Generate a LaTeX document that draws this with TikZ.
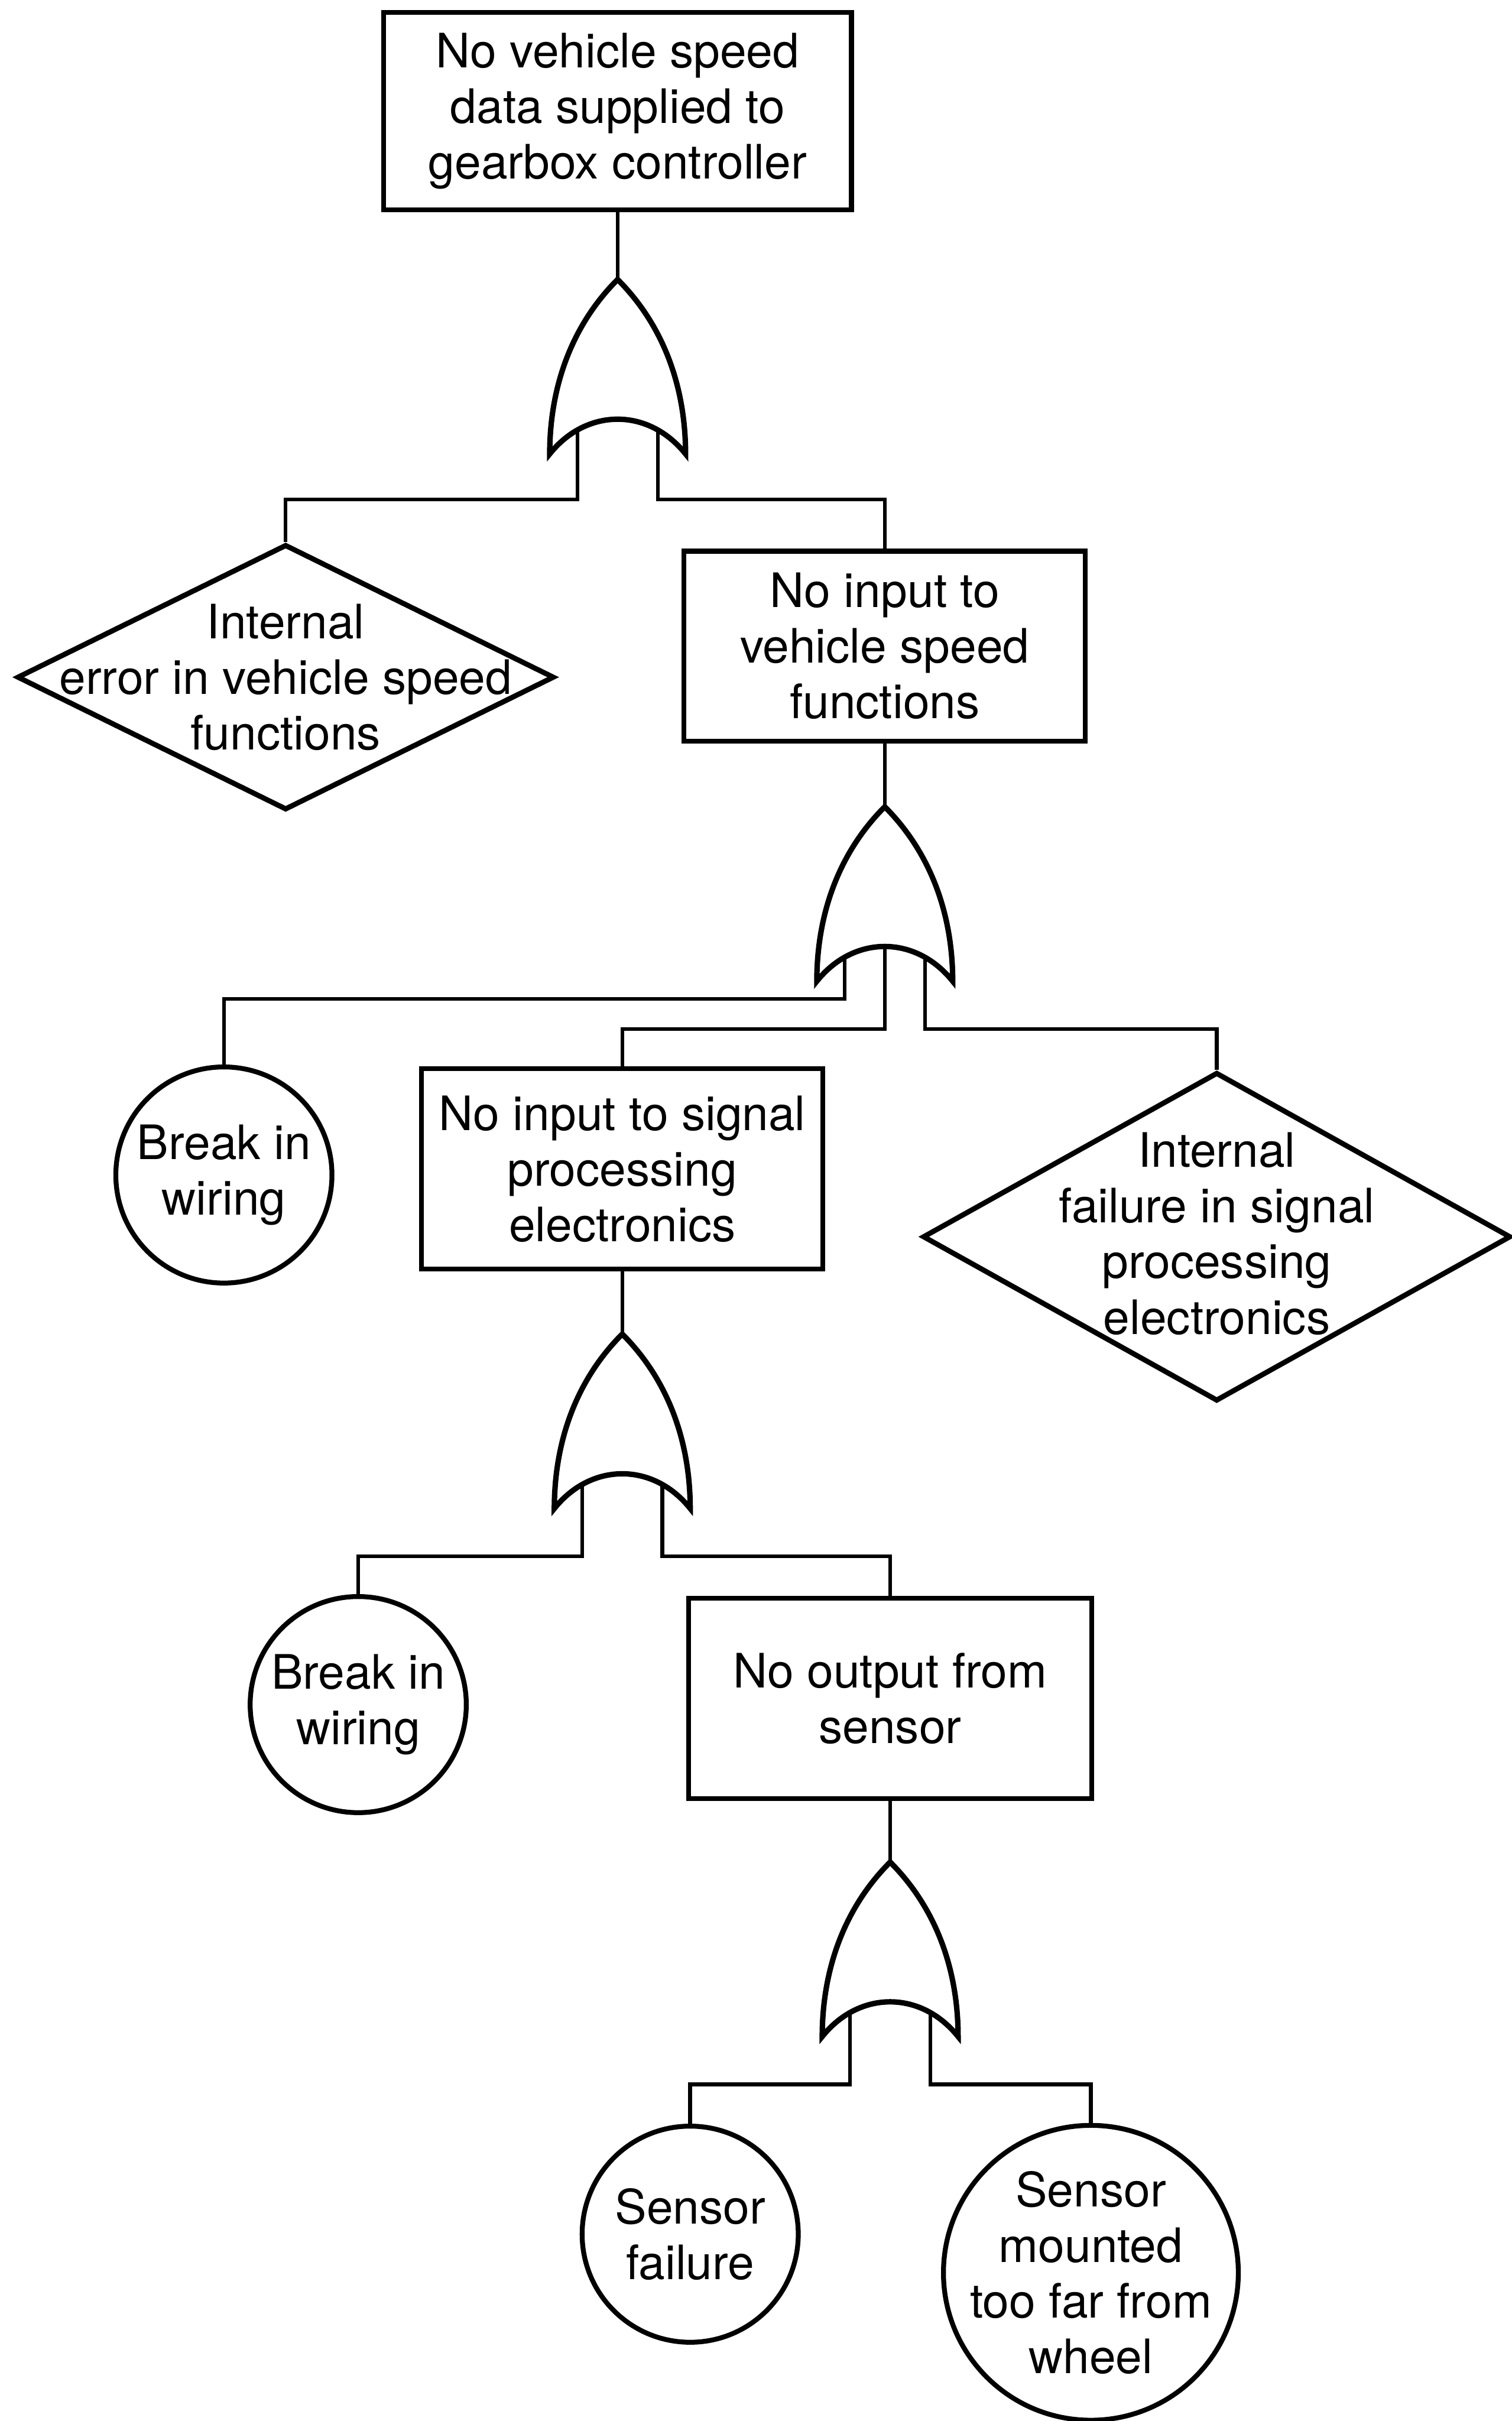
\documentclass[tikz,border=0pt]{standalone}
\usepackage{fontspec}
\setmainfont{TeX Gyre Heros}
\usepackage{tikz}
\usetikzlibrary{shapes.geometric,calc}

\begin{document}
\begin{tikzpicture}[x=0.02cm,y=-0.02cm,
  txt/.style={font=\fontsize{17.5pt}{20.5pt}\selectfont,align=center,inner sep=0pt},
  evbox/.style={txt,draw,line width=1.8pt,minimum width=5.2cm,minimum height=2.6cm},
  basic/.style={txt,draw,circle,line width=1.8pt,minimum size=2.8cm},
  undev/.style={draw,diamond,line width=1.9pt,inner sep=0pt},
  wire/.style={line width=1.4pt},
  orgate/.pic={
    \draw[line width=2pt] (0,0) .. controls (-30,30) and (-44,70) .. (-44,113)
      .. controls (-20,83) and (20,83) .. (44,113)
      .. controls (44,70) and (30,30) .. cycle;
    \coordinate (-a) at (0,0);
    \coordinate (-l) at (-26,97.5);
    \coordinate (-m) at (0,90.5);
    \coordinate (-r) at (26,97.5);
  }]
  \useasboundingbox (0,0) rectangle (979,1568);

  % events
  \node[evbox,minimum width=6.06cm,minimum height=2.56cm] (top) at (400,72) {No vehicle speed\\data supplied to\\gearbox controller};
  \node[evbox,minimum height=2.46cm] (inp) at (573,418.5) {No input to\\vehicle speed\\functions};
  \node[evbox] (sig) at (403,757) {No input to signal\\processing\\electronics};
  \node[evbox,minimum width=5.22cm] (sens) at (576.5,1100) {No output from\\sensor};

  % undeveloped events
  \node[undev,minimum width=6.96cm,minimum height=3.44cm] (err) at (185,438.6) {};
  \node[txt] (err-t) at (err) {Internal\\error in vehicle speed\\functions};
  \node[undev,minimum width=7.62cm,minimum height=4.26cm] (fail) at (788,801) {};
  \node[txt] (fail-t) at (788,799) {Internal\\failure in signal\\processing\\electronics};

  % basic events
  \node[basic] (brk1) at (145,761) {Break in\\wiring};
  \node[basic] (brk2) at (232,1104) {Break in\\wiring};
  \node[basic] (sfail) at (447,1447) {Sensor\\failure};
  \node[draw,circle,line width=1.8pt,minimum size=3.82cm,inner sep=0pt] (smount) at (706.5,1472) {};
  \node[txt] (smount-t) at (smount) {Sensor\\mounted\\too far from\\wheel};

  % or gates
  \foreach \g/\p in {g1/{400,181}, g2/{573,522.5}, g3/{403,864}, g4/{576.5,1206}}
    \pic (\g) at (\p) {orgate};

  \draw[wire] (top.south) -- (g1-a);
  \draw[wire] (g1-l) -- ++(0,45) -| (err.north);
  \draw[wire] (g1-r) -- ++(0,45) -| (inp.north);

  \draw[wire] (inp.south) -- (g2-a);
  \draw[wire] (g2-l) -- ++(0,27) -| (brk1.north);
  \draw[wire] (g2-m) -- ++(0,53.5) -| (sig.north);
  \draw[wire] (g2-r) -- ++(0,46.5) -| (fail.north);

  \draw[wire] (sig.south) -- (g3-a);
  \draw[wire] (g3-l) -- ++(0,46.5) -| (brk2.north);
  \draw[wire] (g3-r) -- ++(0,46.5) -| (sens.north);

  \draw[wire] (sens.south) -- (g4-a);
  \draw[wire] (g4-l) -- ++(0,46.5) -| (sfail.north);
  \draw[wire] (g4-r) -- ++(0,46.5) -| (smount.north);
\end{tikzpicture}
\end{document}
